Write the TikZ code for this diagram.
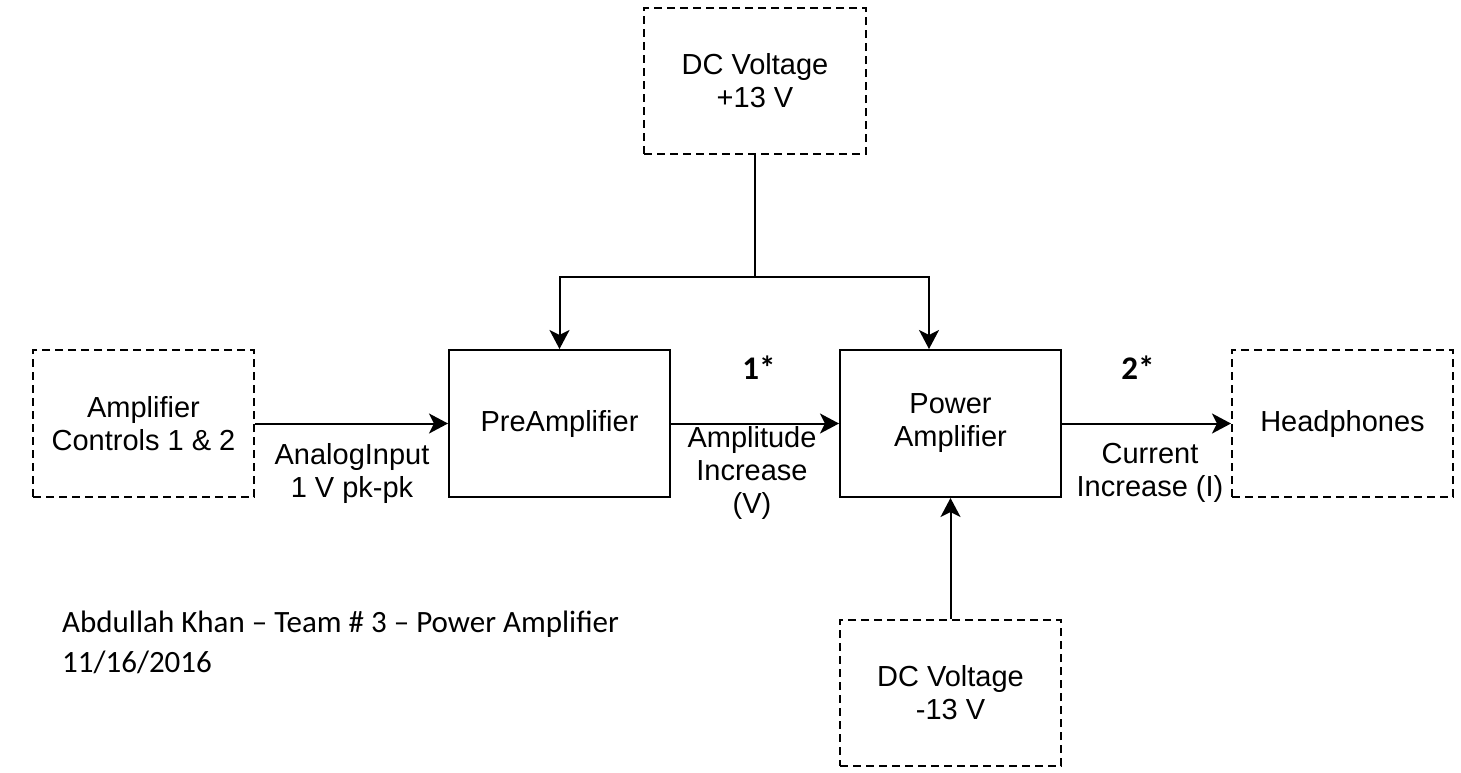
\documentclass[tikz,border=0pt]{standalone}
\usepackage{fontspec}
\setmainfont{Liberation Sans}
\newfontfamily\calib{Carlito}
\usetikzlibrary{arrows.meta,calc}
\begin{document}
\begin{tikzpicture}[x=1pt,y=-1pt,
  box/.style={draw,line width=2pt,minimum width=221pt,minimum height=147pt,inner sep=0pt,align=center,font=\fontsize{29}{33}\selectfont},
  dbox/.style={box,dash pattern=on 8pt off 5pt},
  lbl/.style={align=center,font=\fontsize{29}{33}\selectfont,inner sep=0pt},
  num/.style={font=\calib\bfseries\fontsize{33}{33}\selectfont,inner sep=0pt},
  conn/.style={line width=2pt,-{Stealth[length=19pt,width=20pt,inset=5pt]}},
  wire/.style={line width=2pt}]
\useasboundingbox[fill=white] (0,0) rectangle (1461,772);
\node[dbox] (ctrl) at (143.5,423.5) {Amplifier\\Controls 1 \& 2};
\node[box] (pre) at (559.5,423.5) {PreAmplifier};
\node[box] (pow) at (950.5,423.5) {Power\\Amplifier};
\node[dbox] (head) at (1342.5,423.5) {Headphones};
\node[dbox,minimum width=222pt,minimum height=146pt] (dcp) at (755,81) {DC Voltage\\+13 V};
\node[dbox,minimum height=146pt] (dcn) at (950.5,693) {DC Voltage\\-13 V};
\coordinate (j) at (755,277);
\coordinate (k) at (929,277);
\draw[conn] (ctrl.east) -- (pre.west);
\draw[conn] (pre.east) -- (pow.west);
\draw[conn] (pow.east) -- (head.west);
\draw[wire] (dcp.south) -- (j);
\draw[conn] (j) -| (pre.north);
\draw[conn] (j) -- (k) -- (k |- pow.north);
\draw[conn] (dcn.north) -- (pow.south);
\node[lbl] (l1) at (352,473) {AnalogInput\\1 V pk-pk};
\node[lbl] (l2) at (752,473) {Amplitude\\Increase\\(V)};
\node[lbl] (l3) at (1150,473) {Current\\Increase (I)};
\node[num] (n1) at (759,368) {1*};
\node[num] (n2) at (1138,368) {2*};
\node[anchor=base west,align=left,inner sep=0pt,font=\calib\fontsize{31}{40}\selectfont] (foot) at (62,672) {Abdullah Khan – Team \# 3 – Power Amplifier\\11/16/2016};
\end{tikzpicture}
\end{document}
